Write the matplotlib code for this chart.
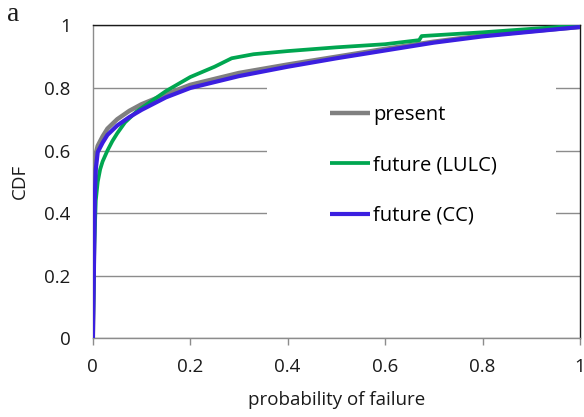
import matplotlib
matplotlib.use("Agg")
import matplotlib.pyplot as plt
from matplotlib.patches import Rectangle
from matplotlib.ticker import FuncFormatter

# CDF curves (probability of failure vs CDF)
present_x = [0, 0.002, 0.004, 0.006, 0.01, 0.02, 0.03, 0.05, 0.075, 0.1, 0.15, 0.2, 0.3, 0.4, 0.5, 0.6, 0.7, 0.8, 0.9, 1.0]
present_y = [0, 0.25, 0.50, 0.59, 0.615, 0.645, 0.67, 0.70, 0.727, 0.748, 0.78, 0.81, 0.848, 0.875, 0.90, 0.925, 0.948, 0.968, 0.982, 0.995]

lulc_x = [0, 0.003, 0.006, 0.01, 0.015, 0.02, 0.03, 0.04, 0.05, 0.066, 0.09, 0.113, 0.15, 0.2, 0.25, 0.285, 0.33, 0.4, 0.5, 0.6, 0.67, 0.675, 0.8, 1.0]
lulc_y = [0, 0.30, 0.44, 0.50, 0.54, 0.565, 0.60, 0.63, 0.655, 0.69, 0.725, 0.75, 0.79, 0.835, 0.868, 0.895, 0.908, 0.918, 0.93, 0.94, 0.953, 0.966, 0.978, 1.0]

cc_x = [0, 0.002, 0.004, 0.006, 0.01, 0.02, 0.03, 0.05, 0.075, 0.1, 0.15, 0.2, 0.3, 0.4, 0.5, 0.6, 0.7, 0.8, 0.9, 1.0]
cc_y = [0, 0.20, 0.45, 0.54, 0.595, 0.625, 0.65, 0.68, 0.707, 0.73, 0.77, 0.80, 0.838, 0.868, 0.895, 0.92, 0.945, 0.965, 0.98, 0.995]

ticks = [0, 0.2, 0.4, 0.6, 0.8, 1]

plt.rcParams["font.family"] = ["Open Sans", "DejaVu Sans"]

fig = plt.figure(figsize=(5.84, 4.17), dpi=100)
ax = fig.add_axes([0.159, 0.189, 0.834, 0.750])

ax.plot(present_x, present_y, color="#808080", lw=3.2, label="present", zorder=3, solid_capstyle="butt")
ax.plot(lulc_x, lulc_y, color="#00A650", lw=2.7, label="future (LULC)", zorder=4, solid_capstyle="butt")
ax.plot(cc_x, cc_y, color="#3B1FE0", lw=3.0, label="future (CC)", zorder=5, solid_capstyle="butt")

ax.set_xlim(0, 1)
ax.set_ylim(0, 1)
ax.set_xticks(ticks)
ax.set_yticks(ticks)
fmt = FuncFormatter(lambda v, p: f"{v:g}")
ax.xaxis.set_major_formatter(fmt)
ax.yaxis.set_major_formatter(fmt)

ax.set_axisbelow(True)
ax.yaxis.grid(True, color="#8c8c8c", lw=1.0)
ax.xaxis.grid(False)

# white box behind the legend hides the gridlines there
ax.add_patch(Rectangle((0.357, 0.37), 0.594, 0.46, transform=ax.transAxes,
                       facecolor="white", edgecolor="none", zorder=1))

for side in ("left", "bottom"):
    ax.spines[side].set_color("#8c8c8c")
    ax.spines[side].set_linewidth(1.0)
for side in ("top", "right"):
    ax.spines[side].set_color("#1a1a1a")
    ax.spines[side].set_linewidth(1.0)

ax.tick_params(axis="x", direction="out", length=5, width=1, color="#8c8c8c",
               labelsize=13.5, pad=9, labelcolor="#1a1a1a")
ax.tick_params(axis="y", length=0, labelsize=13.5, pad=16, labelcolor="#1a1a1a")

ax.set_xlabel("probability of failure", fontsize=13.5, labelpad=11, color="#1a1a1a")
ax.set_ylabel("CDF", fontsize=13.5, labelpad=11, color="#1a1a1a")

ax.legend(loc="upper left", bbox_to_anchor=(0.487, 0.745), frameon=False,
          fontsize=14.5, handlelength=2.0, handletextpad=0.15, labelspacing=1.5,
          borderpad=0, borderaxespad=0)

fig.text(0.012, 0.995, "a", family=["Liberation Serif", "DejaVu Serif"], fontsize=20,
         ha="left", va="top", color="#1a1a1a")

fig.savefig("out.png", dpi=100)
